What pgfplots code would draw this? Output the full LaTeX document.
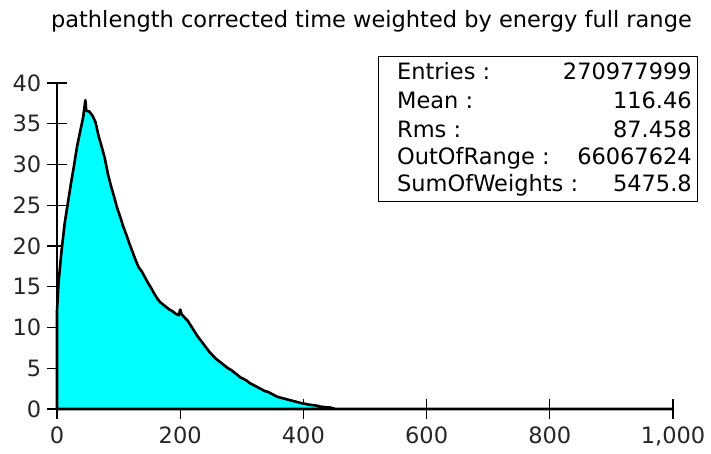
\documentclass[border=0pt]{standalone}
\usepackage{fontspec}
\setmainfont{DejaVu Sans}
\usepackage{pgfplots}
\pgfplotsset{compat=1.18}
\usepackage{pgfplotstable}
\definecolor{histcyan}{RGB}{0,255,255}
\pgfplotstableread{
x y
0 12
2.5 15.5
7.5 19.5
12.5 22.8
17.5 25.2
22.5 27.6
27.5 29.8
32.5 32.2
37.5 34.0
42.5 35.8
46 37.9
47.5 36.6
52.5 36.5
57.5 36.0
62.5 35.2
67.5 33.5
72.5 32.2
77.5 30.8
82.5 28.9
87.5 27.4
92.5 26.1
97.5 24.7
102.5 23.6
107.5 22.4
112.5 21.4
117.5 20.3
122.5 19.3
127.5 18.3
132.5 17.4
137.5 16.9
142.5 16.2
147.5 15.5
152.5 14.9
157.5 14.2
162.5 13.6
167.5 13.1
172.5 12.8
177.5 12.5
182.5 12.2
187.5 12.0
192.5 11.7
197.5 11.5
200 12.2
202.5 11.6
207.5 11.2
212.5 10.8
217.5 10.2
222.5 9.6
227.5 9.0
232.5 8.5
237.5 8.0
242.5 7.5
247.5 7.0
252.5 6.6
257.5 6.2
262.5 5.9
267.5 5.6
272.5 5.3
277.5 5.0
282.5 4.8
287.5 4.5
292.5 4.2
297.5 3.9
302.5 3.7
307.5 3.5
312.5 3.2
317.5 3.0
322.5 2.8
327.5 2.6
332.5 2.4
337.5 2.2
342.5 2.1
347.5 1.9
352.5 1.7
357.5 1.5
362.5 1.4
367.5 1.3
372.5 1.2
377.5 1.1
382.5 1.0
387.5 0.9
392.5 0.8
397.5 0.7
402.5 0.65
407.5 0.55
412.5 0.5
417.5 0.45
422.5 0.4
427.5 0.3
432.5 0.25
437.5 0.2
442.5 0.2
447.5 0.1
452 0
1000 0
}\histdata
\begin{document}
\fontsize{22.5}{28}\selectfont
\begin{tikzpicture}
\useasboundingbox (-57pt,-45pt) rectangle (654pt,409pt);
\begin{axis}[
  at={(0,0)}, anchor=south west,
  scale only axis,
  width=616pt, height=326pt,
  xmin=0, xmax=1000, ymin=0, ymax=40,
  axis lines=left,
  axis line style={-, line width=1.5pt, black},
  tick style={line width=1.3pt, black},
  tick align=center,
  major tick length=20pt,
  xtick={0,200,400,600,800,1000},
  ytick={0,5,10,15,20,25,30,35,40},
  /pgf/number format/assume math mode=true,
  ticklabel style={font=\fontsize{22.5}{28}\selectfont, text=black!85},
  yticklabel style={xshift=2pt},
  clip=false,
]
\addplot[sharp plot, fill=histcyan, draw=black, line width=2.6pt, line join=round] table[x=x,y=y] {\histdata} \closedcycle;
\draw[line width=1.5pt] (axis cs:0,0) -- (axis cs:1000,0);
\draw[line width=1pt, fill=white] (axis cs:521.1,43.3) rectangle (axis cs:1039,25.4);
\node[anchor=base west, inner sep=0pt] at (axis cs:551.9,40.37) {Entries :};
\node[anchor=base west, inner sep=0pt] at (axis cs:551.9,36.93) {Mean :};
\node[anchor=base west, inner sep=0pt] at (axis cs:551.9,33.37) {Rms :};
\node[anchor=base west, inner sep=0pt] at (axis cs:551.9,29.94) {OutOfRange :};
\node[anchor=base west, inner sep=0pt] at (axis cs:551.9,26.63) {SumOfWeights :};
\node[anchor=base east, inner sep=0pt] at (axis cs:1030.8,40.37) {270977999};
\node[anchor=base east, inner sep=0pt] at (axis cs:1030.8,36.93) {116.46};
\node[anchor=base east, inner sep=0pt] at (axis cs:1030.8,33.37) {87.458};
\node[anchor=base east, inner sep=0pt] at (axis cs:1030.8,29.94) {66067624};
\node[anchor=base east, inner sep=0pt] at (axis cs:1030.8,26.63) {5475.8};
\node[anchor=base, inner sep=0pt] at (axis cs:510.5,46.75) {pathlength corrected time weighted by energy full range};
\end{axis}
\end{tikzpicture}
\end{document}
